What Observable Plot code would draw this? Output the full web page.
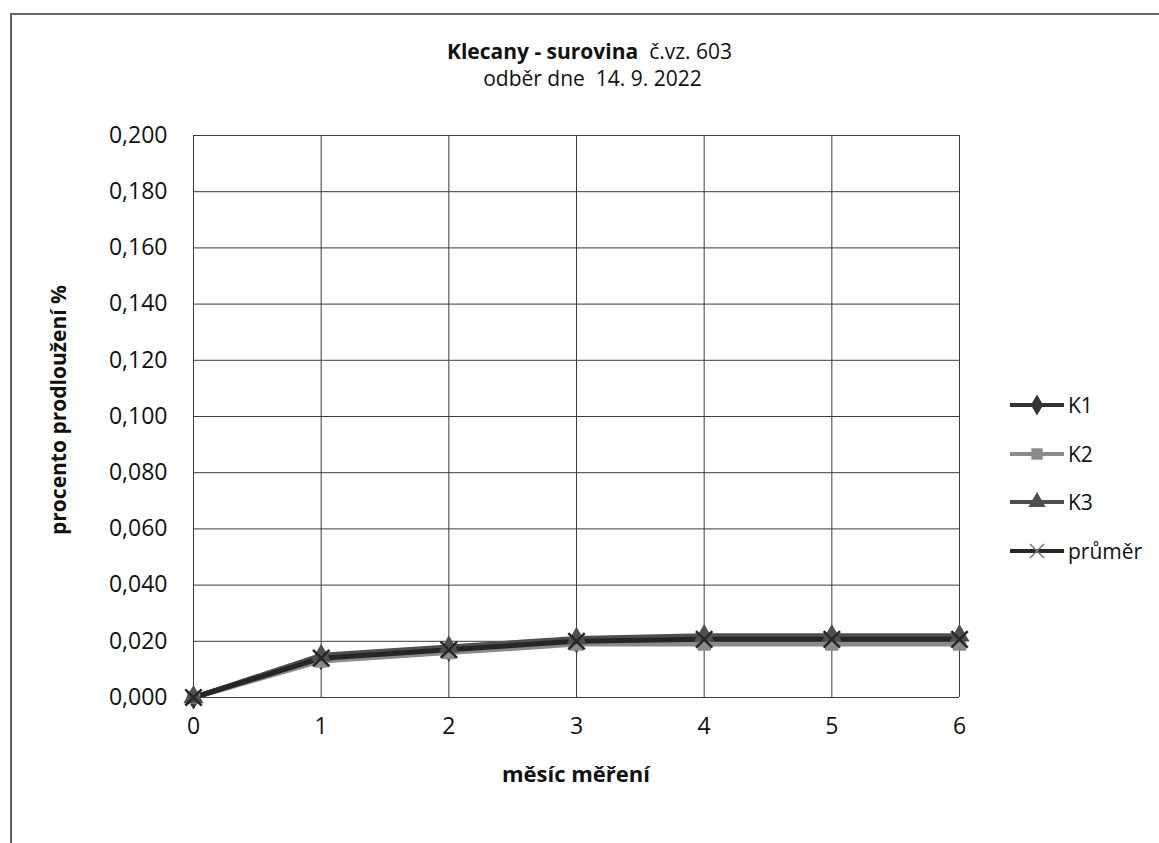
<!DOCTYPE html>
<html><head><meta charset="utf-8">
<script src="https://cdn.jsdelivr.net/npm/d3@7"></script>
<script src="https://cdn.jsdelivr.net/npm/@observablehq/plot@0.6"></script>
<style>
html,body{margin:0;padding:0;overflow:hidden;background:#fff;font-family:"Open Sans",Lato,sans-serif;color:#111;}
#wrap{position:relative;width:1159px;height:843px;overflow:hidden;background:#fff;}
#frame{position:absolute;left:10px;top:13px;width:1300px;height:1000px;border-left:2px solid #666;border-top:2px solid #666;}
#chart{position:absolute;left:0;top:0;}
.t{position:absolute;left:0;width:1159px;text-align:center;font-size:21px;white-space:pre;line-height:30px;}
#t1{top:36px;left:10px;}
#t2{top:63px;left:13px;}
#xt{position:absolute;left:0;width:1152px;text-align:center;top:758px;font-size:22px;line-height:30px;font-weight:bold;}
#yt{position:absolute;left:58px;top:410px;transform:translate(-50%,-50%) rotate(-90deg);font-size:21px;font-weight:bold;white-space:nowrap;}
#legend{position:absolute;left:1008px;top:381px;}
.li{display:flex;align-items:center;height:48.5px;font-size:21px;}
.li svg{margin-right:2px;}
</style>
</head><body>
<div id="wrap">
  <div id="frame"></div>
  <div id="chart"></div>
  <div class="t" id="t1"><b>Klecany - surovina</b>  č.vz. 603</div>
  <div class="t" id="t2">odběr dne  14. 9. 2022</div>
  <div id="xt">měsíc  měření</div>
  <div id="yt">procento prodloužení %</div>
  <div id="legend"></div>
</div>
<script>
const months = [0, 1, 2, 3, 4, 5, 6];
const seriesNames = ["K1", "K2", "K3", "průměr"];
const k1 = [0.000, 0.014, 0.017, 0.020, 0.021, 0.021, 0.021];
const k2 = [0.000, 0.013, 0.016, 0.019, 0.019, 0.019, 0.019];
const k3 = [0.000, 0.015, 0.018, 0.021, 0.022, 0.022, 0.022];
const prumer = [0.000, 0.014, 0.017, 0.020, 0.0207, 0.0207, 0.0207];
const yTicks = [0, 0.02, 0.04, 0.06, 0.08, 0.10, 0.12, 0.14, 0.16, 0.18, 0.20];

const colors = ["#333333", "#8a8a8a", "#4f4f4f", "#262626"];
const symbols = ["diamond", "square", "triangle", "times"];
const seriesVals = [k1, k2, k3, prumer];

const data = [];
seriesNames.forEach((s, i) => months.forEach((m, j) => data.push({s, m, v: seriesVals[i][j]})));

const fmt = d => d3.format(".3f")(d).replace(".", ",");

const plot = Plot.plot({
  width: 1159, height: 843,
  marginLeft: 193, marginRight: 200, marginTop: 135, marginBottom: 146,
  style: {fontFamily: '"Open Sans", Lato, sans-serif', fontSize: "23px", color: "#111", background: "transparent"},
  x: {domain: [0, 6], ticks: months, label: null},
  y: {domain: [0, 0.2], ticks: yTicks, label: null},
  color: {domain: seriesNames, range: colors},
  symbol: {domain: seriesNames, range: symbols},
  marks: [
    Plot.gridX(months, {stroke: "#3c3c3c", strokeOpacity: 1, strokeWidth: 1}),
    Plot.gridY(yTicks, {stroke: "#3c3c3c", strokeOpacity: 1, strokeWidth: 1}),
    Plot.axisX(months, {tickSize: 0, tickPadding: 20, tickFormat: d => String(d), fontSize: 23}),
    Plot.axisY(yTicks, {tickSize: 0, tickPadding: 26, tickFormat: fmt, fontSize: 23}),
    Plot.line(data, {x: "m", y: "v", z: "s", stroke: "s", strokeWidth: 5}),
    Plot.dot(data.filter(d => d.s !== "průměr"), {x: "m", y: "v", symbol: "s", fill: "s", r: 7.5}),
    Plot.dot(data.filter(d => d.s === "průměr"), {x: "m", y: "v", symbol: "s", stroke: "s", strokeWidth: 2.5, r: 7.5})
  ]
});
document.getElementById("chart").appendChild(plot);

// legend
const lg = document.getElementById("legend");
const d3sym = {diamond: d3.symbolDiamond, square: d3.symbolSquare, triangle: d3.symbolTriangle, times: d3.symbolTimes};
seriesNames.forEach((s, i) => {
  const row = document.createElement("div");
  row.className = "li";
  const svg = d3.create("svg").attr("width", 58).attr("height", 22);
  svg.append("line").attr("x1", 2).attr("x2", 56).attr("y1", 11).attr("y2", 11)
    .attr("stroke", colors[i]).attr("stroke-width", 4);
  const p = svg.append("path").attr("transform", "translate(29,11)")
    .attr("d", d3.symbol(d3sym[symbols[i]], 130)());
  if (symbols[i] === "times") p.attr("fill", "none").attr("stroke", "#777").attr("stroke-width", 1.5);
  else p.attr("fill", colors[i]);
  row.appendChild(svg.node());
  const t = document.createElement("span");
  t.textContent = s;
  row.appendChild(t);
  lg.appendChild(row);
});
</script>
</body></html>
